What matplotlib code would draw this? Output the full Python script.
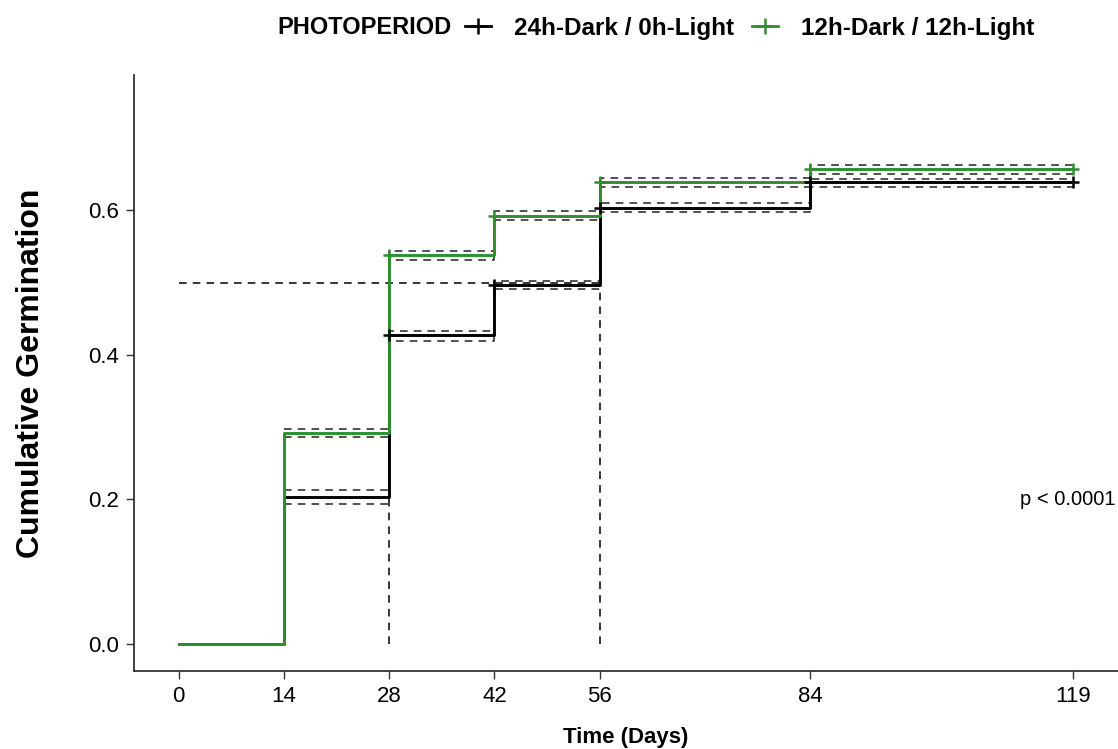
import matplotlib
matplotlib.use("Agg")
import matplotlib.pyplot as plt
from matplotlib.lines import Line2D

plt.rcParams["font.family"] = ["Liberation Sans", "DejaVu Sans"]

# step times (days) and cumulative germination estimates
times = [0, 14, 28, 42, 56, 84, 119]
dark = [0.0, 0.204, 0.427, 0.497, 0.604, 0.639, 0.639]
dark_hi = [0.0, 0.213, 0.433, 0.503, 0.610, 0.644, 0.644]
dark_lo = [0.0, 0.194, 0.419, 0.491, 0.598, 0.632, 0.632]
light = [0.0, 0.292, 0.539, 0.593, 0.639, 0.657, 0.657]
light_hi = [0.0, 0.297, 0.544, 0.599, 0.645, 0.663, 0.663]
light_lo = [0.0, 0.286, 0.532, 0.587, 0.632, 0.651, 0.651]
censor_times = [28, 42, 56, 84, 119]
median_times = [28, 56]
xticks = [0, 14, 28, 42, 56, 84, 119]
yticks = [0.0, 0.2, 0.4, 0.6]
labels = ["24h-Dark / 0h-Light", "12h-Dark / 12h-Light"]

GREEN = "#2f8f2f"
DASH = (0, (5, 4))

fig = plt.figure(figsize=(11.18, 7.49), dpi=100)
ax = fig.add_axes([134 / 1118, 1 - 671 / 749, 984 / 1118, (671 - 75) / 749])

series = [
    (dark, dark_lo, dark_hi, "black"),
    (light, light_lo, light_hi, GREEN),
]

# confidence bands (dashed steps)
for surv, lo, hi, col in series:
    for band in (lo, hi):
        ax.step(times[1:], band[1:], where="post", color="#222222",
                linestyle=DASH, linewidth=1.1, zorder=2)

# median lines
ax.hlines(0.5, 0, max(median_times), colors="black", linestyles=DASH,
          linewidth=1.1, zorder=2)
for mt in median_times:
    ax.vlines(mt, 0, 0.5, colors="black", linestyles=DASH,
              linewidth=1.1, zorder=2)

# step curves + censor marks
for surv, lo, hi, col in series:
    ax.step(times, surv, where="post", color=col, linewidth=2.1, zorder=3)
    cy = [surv[times.index(t)] for t in censor_times]
    ax.plot(censor_times, cy, linestyle="none", marker="+", markersize=9,
            markeredgewidth=1.8, color=col, zorder=4)

ax.text(111.9, 0.2, "p < 0.0001", fontsize=14.5, ha="left", va="center")

ax.set_xlim(-5.95, 124.95)
ax.set_ylim(-0.0375, 0.7875)
ax.set_xticks(xticks)
ax.set_yticks(yticks)
ax.set_xticklabels([str(t) for t in xticks])
ax.set_yticklabels([f"{v:.1f}" for v in yticks])
ax.tick_params(direction="out", length=6, width=1.0, color="#333333",
               labelsize=16, pad=5)
for s in ("top", "right"):
    ax.spines[s].set_visible(False)
for s in ("left", "bottom"):
    ax.spines[s].set_color("#333333")
    ax.spines[s].set_linewidth(1.3)

ax.set_xlabel("Time (Days)", fontsize=16, fontweight="bold", labelpad=14)
ax.set_ylabel("Cumulative Germination", fontsize=23, fontweight="bold",
              labelpad=30)

# legend on top, title to the left
fig.text(277 / 1118, 1 - 28 / 749, "PHOTOPERIOD", fontsize=17,
         fontweight="bold", ha="left", va="center")
handles = [
    Line2D([], [], color="black", marker="+", markersize=11,
           markeredgewidth=1.8, linewidth=2.0),
    Line2D([], [], color=GREEN, marker="+", markersize=11,
           markeredgewidth=1.8, linewidth=2.0),
]
leg = fig.legend(handles, labels, loc="center left",
                 bbox_to_anchor=(465 / 1118, 1 - 28 / 749), ncol=2,
                 frameon=False, handlelength=1.06, handletextpad=0.97,
                 columnspacing=0.72, borderaxespad=0, borderpad=0,
                 prop={"size": 17.5, "weight": "bold"})

fig.savefig("out.png", dpi=100)
